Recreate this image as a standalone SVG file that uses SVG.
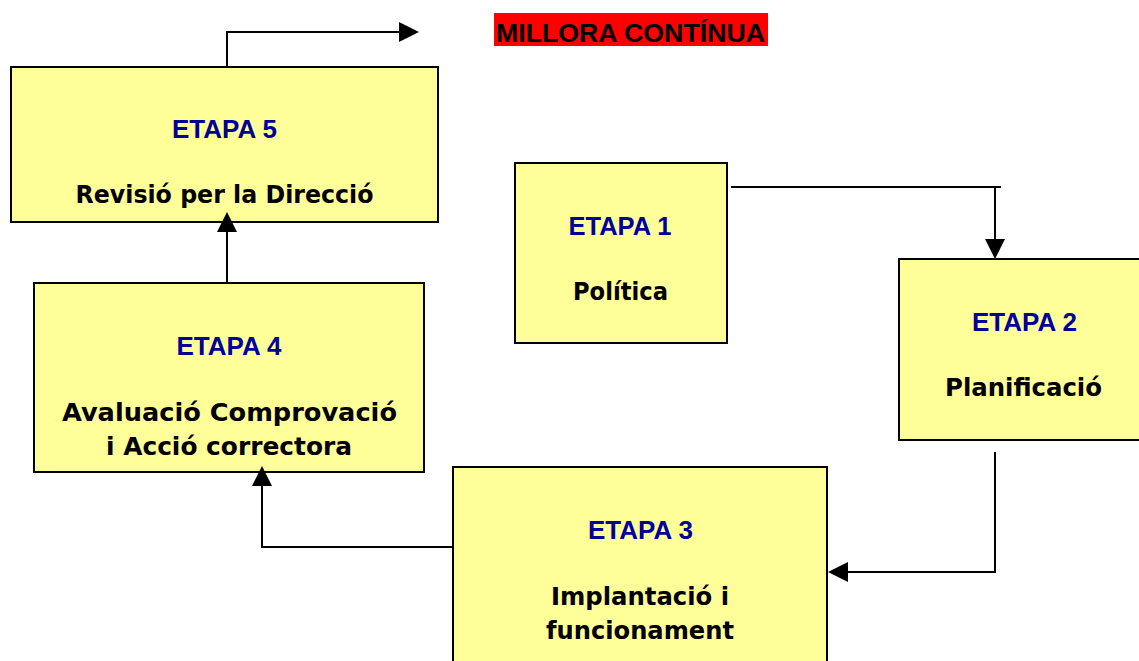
<svg xmlns="http://www.w3.org/2000/svg" width="1139" height="661" viewBox="0 0 1139 661">
  <style>
    .box { fill: #FFFF99; stroke: #000; stroke-width: 2; }
    .head { font-family: "Liberation Sans", Arial, sans-serif; font-weight: bold; font-size: 25px; fill: #000099; text-anchor: middle; }
    .body { font-family: "DejaVu Sans", "Liberation Sans", sans-serif; font-weight: bold; font-size: 24px; fill: #000; text-anchor: middle; }
    .conn { fill: none; stroke: #000; stroke-width: 2; }
    .title { font-family: "Liberation Sans", Arial, sans-serif; font-weight: bold; font-size: 26px; fill: #000; }
  </style>
  <defs>
    <marker id="arrow" markerUnits="userSpaceOnUse" markerWidth="21" markerHeight="21" refX="0" refY="10" orient="auto" viewBox="0 0 21 20">
      <path d="M0,0 L20,10 L0,20 z" fill="#000"/>
    </marker>
  </defs>
  <rect width="1139" height="661" fill="#FFFFFF"/>

  <g id="title">
    <rect x="494" y="13" width="274" height="33" fill="#FF0000"/>
    <text class="title" x="496" y="42" textLength="269" lengthAdjust="spacingAndGlyphs">MILLORA CONTÍNUA</text>
  </g>

  <g id="etapa5">
    <rect class="box" x="11" y="67" width="427" height="155"/>
    <text class="head" x="224.5" y="138" textLength="105" lengthAdjust="spacingAndGlyphs">ETAPA 5</text>
    <text class="body" x="224.5" y="203" textLength="298" lengthAdjust="spacingAndGlyphs">Revisió per la Direcció</text>
  </g>

  <g id="etapa1">
    <rect class="box" x="515" y="163" width="212" height="180"/>
    <text class="head" x="620" y="235" textLength="103" lengthAdjust="spacingAndGlyphs">ETAPA 1</text>
    <text class="body" x="620.5" y="300" textLength="95" lengthAdjust="spacingAndGlyphs">Política</text>
  </g>

  <g id="etapa2">
    <rect class="box" x="899" y="259" width="252" height="181"/>
    <text class="head" x="1024.5" y="331" textLength="105" lengthAdjust="spacingAndGlyphs">ETAPA 2</text>
    <text class="body" x="1023.5" y="396" textLength="157" lengthAdjust="spacingAndGlyphs">Planificació</text>
  </g>

  <g id="etapa3">
    <rect class="box" x="453" y="467" width="374" height="210"/>
    <text class="head" x="640.5" y="539" textLength="105" lengthAdjust="spacingAndGlyphs">ETAPA 3</text>
    <text class="body" x="640" y="605" textLength="178" lengthAdjust="spacingAndGlyphs">Implantació i</text>
    <text class="body" x="640" y="639" textLength="188" lengthAdjust="spacingAndGlyphs">funcionament</text>
  </g>

  <g id="etapa4">
    <rect class="box" x="34" y="283" width="390" height="189"/>
    <text class="head" x="229" y="355" textLength="105" lengthAdjust="spacingAndGlyphs">ETAPA 4</text>
    <text class="body" x="229.5" y="421" textLength="335" lengthAdjust="spacingAndGlyphs">Avaluació Comprovació</text>
    <text class="body" x="229" y="455" textLength="246" lengthAdjust="spacingAndGlyphs">i Acció correctora</text>
  </g>

  <g id="connectors">
    <path class="conn" d="M731,187 H1001"/>
    <path class="conn" d="M995,187 V239" marker-end="url(#arrow)"/>
    <path class="conn" d="M995,452 V572 H848" marker-end="url(#arrow)"/>
    <path class="conn" d="M453,547 H262 V486" marker-end="url(#arrow)"/>
    <path class="conn" d="M227,283 V232" marker-end="url(#arrow)"/>
    <path class="conn" d="M227,67 V32 H399" marker-end="url(#arrow)"/>
  </g>
</svg>
